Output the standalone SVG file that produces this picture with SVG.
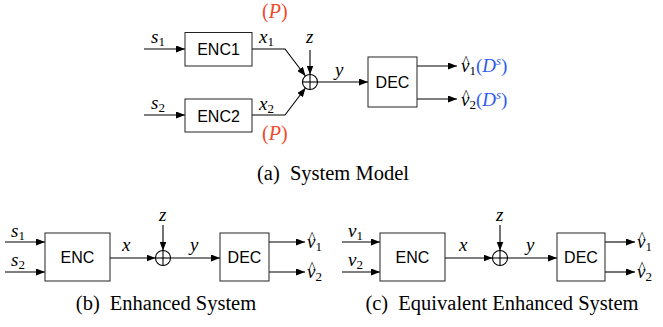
<svg xmlns="http://www.w3.org/2000/svg" width="663" height="327" viewBox="0 0 663 327" font-family="Liberation Serif, serif">
<defs>
<marker id="ah" markerWidth="9" markerHeight="7" refX="9" refY="3.5" orient="auto" markerUnits="userSpaceOnUse">
<path d="M0,0 L9,3.5 L0,7 z" fill="#000"/>
</marker>
</defs>
<g id="connectors-a" fill="none" stroke="#000" stroke-width="1.1" marker-end="url(#ah)">
<line x1="144" y1="49" x2="185" y2="49"/>
<line x1="144" y1="115" x2="185" y2="115"/>
<polyline points="252,49 285,49 305.5,76"/>
<polyline points="252,115 285,115 305.5,88"/>
<line x1="310" y1="50" x2="310" y2="74.5"/>
<line x1="317.5" y1="82" x2="368" y2="82"/>
<line x1="417" y1="66" x2="457" y2="66"/>
<line x1="417" y1="99" x2="457" y2="99"/>
</g>
<g id="enc1"><rect x="185" y="32.5" width="67" height="33.5" fill="#fff" stroke="#222"/><text x="218.5" y="55" style="font-family:'Liberation Sans',sans-serif !important" font-size="16" text-anchor="middle">ENC1</text></g>
<g id="enc2"><rect x="185" y="99" width="67" height="33" fill="#fff" stroke="#222"/><text x="218.5" y="121.5" style="font-family:'Liberation Sans',sans-serif !important" font-size="16" text-anchor="middle">ENC2</text></g>
<g id="sum-a" fill="#fff" stroke="#000" stroke-width="1.1"><circle cx="310" cy="82" r="7.5"/><line x1="302.5" y1="82" x2="317.5" y2="82"/><line x1="310" y1="74.5" x2="310" y2="89.5"/></g>
<g id="dec-a"><rect x="368" y="57" width="49" height="50" fill="#fff" stroke="#222"/><text x="392.5" y="88" style="font-family:'Liberation Sans',sans-serif !important" font-size="16" text-anchor="middle">DEC</text></g>
<g id="labels-a" font-style="italic" font-size="19">
<text x="151" y="43" style="font-family:'Liberation Serif',serif !important">s<tspan dy="3" font-style="normal" font-size="13">1</tspan></text>
<text x="151" y="109" style="font-family:'Liberation Serif',serif !important">s<tspan dy="3" font-style="normal" font-size="13">2</tspan></text>
<text x="259" y="43" style="font-family:'Liberation Serif',serif !important">x<tspan dy="3" font-style="normal" font-size="13">1</tspan></text>
<text x="259" y="110" style="font-family:'Liberation Serif',serif !important">x<tspan dy="3" font-style="normal" font-size="13">2</tspan></text>
<text x="306" y="43" style="font-family:'Liberation Serif',serif !important">z</text>
<text x="335" y="76" style="font-family:'Liberation Serif',serif !important">y</text>
<text x="262" y="18" fill="#F04A2A" font-size="20" style="font-family:'Liberation Serif',serif !important"><tspan font-style="normal">(</tspan>P<tspan font-style="normal">)</tspan></text>
<text x="262" y="140" fill="#F04A2A" font-size="20" style="font-family:'Liberation Serif',serif !important"><tspan font-style="normal">(</tspan>P<tspan font-style="normal">)</tspan></text>
<text x="461" y="72" style="font-family:'Liberation Serif',serif !important">v<tspan dy="3" font-style="normal" font-size="13">1</tspan><tspan fill="#2D5BEF" dy="-3"><tspan font-style="normal">(</tspan>D<tspan dy="-7" font-size="13">s</tspan><tspan dy="7" font-style="normal">)</tspan></tspan></text>
<text x="466" y="66" font-style="normal" font-size="14" text-anchor="middle" style="font-family:'Liberation Serif',serif !important">^</text>
<text x="461" y="106" style="font-family:'Liberation Serif',serif !important">v<tspan dy="3" font-style="normal" font-size="13">2</tspan><tspan fill="#2D5BEF" dy="-3"><tspan font-style="normal">(</tspan>D<tspan dy="-7" font-size="13">s</tspan><tspan dy="7" font-style="normal">)</tspan></tspan></text>
<text x="466" y="100" font-style="normal" font-size="14" text-anchor="middle" style="font-family:'Liberation Serif',serif !important">^</text>
</g>
<text x="333" y="180" font-size="20.5" text-anchor="middle" style="font-family:'Liberation Serif',serif !important">(a)<tspan dx="5"> System Model</tspan></text>
<g id="connectors-b" fill="none" stroke="#000" stroke-width="1.1" marker-end="url(#ah)">
<line x1="5" y1="242" x2="45" y2="242"/>
<line x1="5" y1="272" x2="45" y2="272"/>
<line x1="110" y1="258" x2="155.5" y2="258"/>
<line x1="163" y1="225" x2="163" y2="250.5"/>
<line x1="170.5" y1="258" x2="220" y2="258"/>
<line x1="269" y1="242" x2="305" y2="242"/>
<line x1="269" y1="272" x2="305" y2="272"/>
</g>
<g id="enc-b"><rect x="45" y="233" width="65" height="48" fill="#fff" stroke="#222"/><text x="77.5" y="263" style="font-family:'Liberation Sans',sans-serif !important" font-size="16" text-anchor="middle">ENC</text></g>
<g id="sum-b" fill="#fff" stroke="#000" stroke-width="1.1"><circle cx="163" cy="258" r="7.5"/><line x1="155.5" y1="258" x2="170.5" y2="258"/><line x1="163" y1="250.5" x2="163" y2="265.5"/></g>
<g id="dec-b"><rect x="220" y="233" width="49" height="48" fill="#fff" stroke="#222"/><text x="244.5" y="263" style="font-family:'Liberation Sans',sans-serif !important" font-size="16" text-anchor="middle">DEC</text></g>
<g id="labels-b" font-style="italic" font-size="19">
<text x="11" y="237" style="font-family:'Liberation Serif',serif !important">s<tspan dy="3" font-style="normal" font-size="13">1</tspan></text>
<text x="11" y="266" style="font-family:'Liberation Serif',serif !important">s<tspan dy="3" font-style="normal" font-size="13">2</tspan></text>
<text x="122" y="251" style="font-family:'Liberation Serif',serif !important">x</text>
<text x="159" y="221" style="font-family:'Liberation Serif',serif !important">z</text>
<text x="190" y="251" style="font-family:'Liberation Serif',serif !important">y</text>
<text x="307" y="248" style="font-family:'Liberation Serif',serif !important">v<tspan dy="3" font-style="normal" font-size="13">1</tspan></text>
<text x="312" y="242" font-style="normal" font-size="14" text-anchor="middle" style="font-family:'Liberation Serif',serif !important">^</text>
<text x="307" y="278" style="font-family:'Liberation Serif',serif !important">v<tspan dy="3" font-style="normal" font-size="13">2</tspan></text>
<text x="312" y="272" font-style="normal" font-size="14" text-anchor="middle" style="font-family:'Liberation Serif',serif !important">^</text>
</g>
<text x="166" y="310" font-size="20.5" text-anchor="middle" style="font-family:'Liberation Serif',serif !important">(b)<tspan dx="5"> Enhanced System</tspan></text>
<g id="connectors-c" fill="none" stroke="#000" stroke-width="1.1" marker-end="url(#ah)">
<line x1="342" y1="242" x2="380" y2="242"/>
<line x1="342" y1="272" x2="380" y2="272"/>
<line x1="445" y1="258" x2="492.5" y2="258"/>
<line x1="500" y1="225" x2="500" y2="250.5"/>
<line x1="507.5" y1="258" x2="557" y2="258"/>
<line x1="605" y1="242" x2="635" y2="242"/>
<line x1="605" y1="272" x2="635" y2="272"/>
</g>
<g id="enc-c"><rect x="380" y="233" width="65" height="48" fill="#fff" stroke="#222"/><text x="412.5" y="263" style="font-family:'Liberation Sans',sans-serif !important" font-size="16" text-anchor="middle">ENC</text></g>
<g id="sum-c" fill="#fff" stroke="#000" stroke-width="1.1"><circle cx="500" cy="258" r="7.5"/><line x1="492.5" y1="258" x2="507.5" y2="258"/><line x1="500" y1="250.5" x2="500" y2="265.5"/></g>
<g id="dec-c"><rect x="557" y="233" width="48" height="48" fill="#fff" stroke="#222"/><text x="581" y="263" style="font-family:'Liberation Sans',sans-serif !important" font-size="16" text-anchor="middle">DEC</text></g>
<g id="labels-c" font-style="italic" font-size="19">
<text x="348" y="237" style="font-family:'Liberation Serif',serif !important">v<tspan dy="3" font-style="normal" font-size="13">1</tspan></text>
<text x="348" y="266" style="font-family:'Liberation Serif',serif !important">v<tspan dy="3" font-style="normal" font-size="13">2</tspan></text>
<text x="459" y="251" style="font-family:'Liberation Serif',serif !important">x</text>
<text x="496" y="221" style="font-family:'Liberation Serif',serif !important">z</text>
<text x="526" y="251" style="font-family:'Liberation Serif',serif !important">y</text>
<text x="637" y="248" style="font-family:'Liberation Serif',serif !important">v<tspan dy="3" font-style="normal" font-size="13">1</tspan></text>
<text x="642" y="242" font-style="normal" font-size="14" text-anchor="middle" style="font-family:'Liberation Serif',serif !important">^</text>
<text x="637" y="278" style="font-family:'Liberation Serif',serif !important">v<tspan dy="3" font-style="normal" font-size="13">2</tspan></text>
<text x="642" y="272" font-style="normal" font-size="14" text-anchor="middle" style="font-family:'Liberation Serif',serif !important">^</text>
</g>
<text x="502" y="310" font-size="20.5" text-anchor="middle" style="font-family:'Liberation Serif',serif !important">(c)<tspan dx="5"> Equivalent Enhanced System</tspan></text>
</svg>
